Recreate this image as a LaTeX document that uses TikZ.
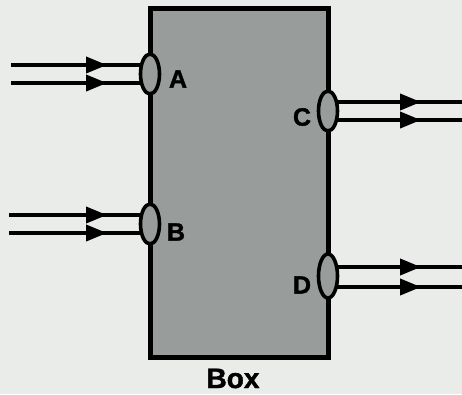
\documentclass[tikz,border=0pt]{standalone}
\usepackage{fontspec}
\setmainfont{Liberation Sans}[BoldFeatures={FakeBold=1.5}]
\usetikzlibrary{shapes.geometric,arrows.meta}
\pgfdeclarelayer{paperlayer}
\pgfdeclarelayer{bg}
\pgfsetlayers{paperlayer,bg,main}
\definecolor{paper}{RGB}{234,236,234}
\definecolor{boxgray}{RGB}{152,156,154}
\begin{document}
\begin{tikzpicture}[x=1pt,y=-1pt,
  boxstyle/.style={draw=black,line width=5pt,fill=boxgray,rectangle,minimum width=178pt,minimum height=349pt,inner sep=0pt},
  port/.style={draw=black,line width=3.6pt,fill=boxgray,ellipse,minimum width=19pt,minimum height=40pt,inner sep=0pt},
  lab/.style={font=\bfseries\fontsize{25}{25}\selectfont,inner sep=0pt},
  flow/.style={line width=3.8pt,black},
  flowhead/.style={line width=3.8pt,black,-{Triangle[length=21pt,width=16pt]}}
]
\begin{pgfonlayer}{paperlayer}
\fill[paper] (0,0) rectangle (462,394);
\end{pgfonlayer}
\useasboundingbox (0,0) rectangle (462,394);
\node[boxstyle] (box) at (239,182.5) {};
\node[lab,font=\bfseries\fontsize{28}{28}\selectfont,anchor=base] (boxlab) at (233,388) {Box};
% ports
\node[port] (A) at (150,74) {};
\node[port] (B) at (150,224) {};
\node[port] (C) at (328,111) {};
\node[port,minimum height=44pt] (D) at (328,276) {};
\node[lab] (la) at (178,79) {A};
\node[lab] (lb) at (176,232) {B};
\node[lab] (lc) at (302,117) {C};
\node[lab] (ld) at (302,285) {D};
% coordinates
\coordinate (a1) at (11,65); \coordinate (a2) at (11,83);
\coordinate (b1) at (9,215); \coordinate (b2) at (9,233);
\coordinate (c1) at (462,102); \coordinate (c2) at (462,120);
\coordinate (d1) at (462,267); \coordinate (d2) at (462,287);
\coordinate (ta) at (107,0); \coordinate (tc) at (421,0);
\begin{pgfonlayer}{bg}
\foreach \s/\p in {a1/A,a2/A,b1/B,b2/B}{
  \draw[flow] (\s) -- (\s -| \p.center);
  \draw[flowhead] (\s) -- (\s -| ta);
}
\foreach \s/\p in {c1/C,c2/C,d1/D,d2/D}{
  \draw[flow] (\s -| \p.center) -- (\s);
  \draw[flowhead] (\s -| \p.center) -- (\s -| tc);
}
\end{pgfonlayer}
\end{tikzpicture}
\end{document}
